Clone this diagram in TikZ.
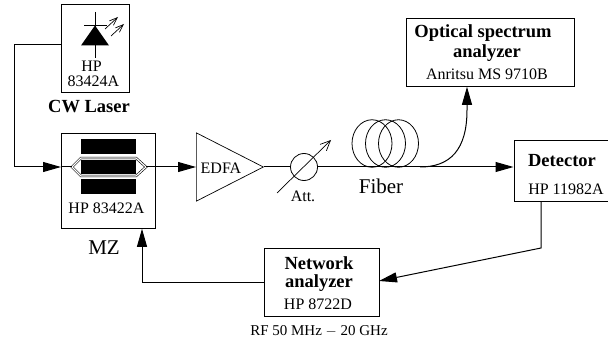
\documentclass[tikz,border=0pt]{standalone}
\usepackage{fontspec}
\setmainfont{Liberation Serif}
\usetikzlibrary{arrows.meta,shapes.geometric}
\tikzset{
  box/.style={draw,line width=.8pt,inner sep=0pt,anchor=north west},
  fibre/.style={line width=1pt},
  fibrearrow/.style={fibre,-{Triangle[length=18pt,width=10pt]}},
  thinarrow/.style={line width=.7pt,-{Straight Barb[length=8pt,width=6pt]}},
  coil/.style={ellipse,draw,line width=.8pt,minimum width=40pt,minimum height=47.5pt,inner sep=0pt},
  bar/.style={fill=black,minimum width=55pt,minimum height=14.5pt,inner sep=0pt},
  lab/.style={font=\fontsize{16}{16}\selectfont,inner sep=0pt},
  blab/.style={font=\fontsize{18.5}{18.5}\selectfont\bfseries,inner sep=0pt},
  biglab/.style={font=\fontsize{21}{21}\selectfont,inner sep=0pt}
}
\begin{document}
\begin{tikzpicture}[x=1pt,y=-1pt]
    \useasboundingbox (0,0) rectangle (608,342);
    % Boxes
    \node[box,minimum width=68pt,minimum height=88pt] (laser) at (61,4.5) {};
    \node[box,minimum width=94pt,minimum height=95pt] (mz) at (61,133) {};
    \node[box,minimum width=168pt,minimum height=67.5pt] (osa) at (406,18.5) {};
    \node[box,minimum width=96pt,minimum height=61pt] (det) at (513.5,140) {};
    \node[box,minimum width=115pt,minimum height=68pt] (net) at (263.5,248) {};
    % Laser
    \coordinate (ltop) at (95,12);
    \coordinate (lbot) at (95,58.5);
    \fill (95,25.5) -- (109,45.5) -- (81,45.5) -- cycle;
    \draw[line width=.7pt] (ltop) -- (lbot);
    \draw[line width=.7pt] (84,25) -- (107,25);
    \draw[thinarrow] (105,29) -- (118,17);
    \draw[thinarrow] (111,36) -- (124,24);
    \node[lab] (hp1) at (91.5,66.5) {HP};
    \node[lab] (hp2) at (93.5,81) {83424A};
    \node[blab] (cw) at (89,106.5) {CW Laser};
    % Modulator
    \node[bar] (b1) at (108.5,146.5) {};
    \node[bar] (b2) at (108.5,167) {};
    \node[bar] (b3) at (108.5,186.5) {};
    \coordinate (mzl) at (72,167);
    \coordinate (mzr) at (146,167);
    \draw[line width=.6pt,double=white,double distance=1.2pt] (mzl) -- (81,158) -- (136,158) -- (mzr) -- (136,176) -- (81,176) -- cycle;
    \node[lab] (hp3) at (106.5,208) {HP 83422A};
    \node[biglab] (mzlab) at (104,248) {MZ};
    % EDFA, attenuator, fibre
    \node[draw,line width=.7pt,isosceles triangle,isosceles triangle apex angle=54,minimum height=67pt,inner sep=0pt,anchor=west] (edfa) at (196,167) {};
    \node[lab] (edfatxt) at (221,168.5) {EDFA};
    \node[circle,draw,line width=.8pt,minimum size=27pt,inner sep=0pt] (att) at (304,167) {};
    \coordinate (atta) at (277,193);
    \coordinate (attb) at (331,140);
    \draw[thinarrow,-{Straight Barb[length=10pt,width=9pt]}] (atta) -- (attb);
    \node[lab] (attlab) at (303,196) {Att.};
    \foreach \i/\c in {1/372,2/385.5,3/398.5}{
      \node[coil] (coil\i) at (\c,143.5) {};}
    \node[biglab] (fib) at (381,186) {Fiber};
    % Text in boxes
    \node[blab] (osa1) at (483,33) {Optical spectrum};
    \node[blab] (osa2) at (487,53.5) {analyzer};
    \node[lab] (osa3) at (487,74) {Anritsu MS 9710B};
    \node[blab] (det1) at (562,161) {Detector};
    \node[lab] (det2) at (566,189) {HP 11982A};
    \node[blab] (net1) at (319,263) {Network};
    \node[blab] (net2) at (319,283.5) {analyzer};
    \node[lab] (net3) at (318,304) {HP 8722D};
    \node[font=\fontsize{15}{15}\selectfont,inner sep=0pt] (rf) at (319,331) {RF 50 MHz $-$ 20 GHz};
    % Connectors
    \coordinate (c1) at (14,45);
    \coordinate (c2) at (14,167);
    \coordinate (c3) at (142,282);
    \coordinate (c4) at (541,248);
    \coordinate (c5) at (379,281);
    \coordinate (fs) at (352,167);
    \coordinate (fe) at (420,167);
    \draw[fibrearrow] (laser.west |- c1) -- (c1) -- (c2) -- (mz.west |- c2);
    \draw[fibre] (mz.west |- c2) -- (mzl);
    \draw[fibrearrow] (mzr) -- (edfa.west);
    \draw[fibre] (edfa.apex) -- (att.west);
    \draw[fibre] (att.east) -- (fs);
    \draw[fibrearrow] (fs) -- (det.west |- fs);
    \draw[fibrearrow] (fe) .. controls (450,167) and (467,150) .. (467,110) -- (osa.south -| 467,0);
    \draw[fibrearrow] (net.west |- c3) -- (c3) -- (mz.south -| c3);
    \draw[fibrearrow] (det.south -| c4) -- (c4) -- (c5);
\end{tikzpicture}
\end{document}
